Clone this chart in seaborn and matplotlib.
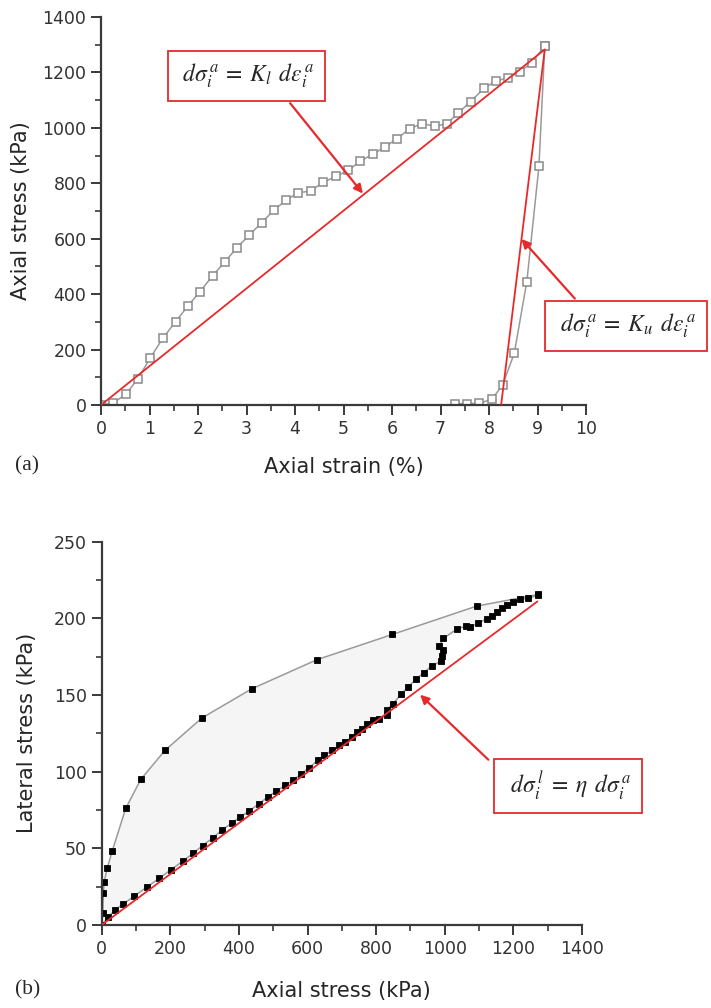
import numpy as np
import pandas as pd
import seaborn as sns
import matplotlib
import matplotlib.pyplot as plt
from matplotlib.ticker import MultipleLocator

matplotlib.use('Agg')

# panel (a): axial strain (%) vs axial stress (kPa)
load_strain = [0, 0.25, 0.52, 0.76, 1.02, 1.27, 1.54, 1.79, 2.04, 2.30, 2.55, 2.80, 3.06,
               3.31, 3.56, 3.82, 4.07, 4.32, 4.58, 4.85, 5.10, 5.35, 5.60, 5.86, 6.10,
               6.37, 6.61, 6.89, 7.13, 7.37, 7.62, 7.90, 8.14, 8.40, 8.64, 8.88, 9.15]
load_stress = [0, 7, 40, 95, 171, 240, 301, 357, 409, 466, 516, 567, 614,
               657, 702, 740, 766, 772, 804, 825, 847, 880, 905, 931, 961,
               997, 1015, 1006, 1015, 1054, 1095, 1143, 1169, 1181, 1203, 1235, 1296]
unload_strain = [9.15, 9.03, 8.78, 8.52, 8.28, 8.06, 7.80, 7.55, 7.30]
unload_stress = [1296, 862, 445, 186, 72, 21, 6, 5, 5]
fit_a_strain = [0, 9.15, 8.25]
fit_a_stress = [0, 1283, 0]

# panel (b): axial stress vs lateral stress (kPa)
upper_axial = [0, 3, 5, 7, 16, 31, 70, 114, 185, 292, 437, 627, 847, 1093, 1273]
upper_lateral = [0, 8, 21, 28, 37, 48.5, 76, 95, 114, 135, 154, 173, 189.5, 208, 215.6]
lower_axial = [0, 19, 39, 63, 94, 131, 168, 201, 236, 267, 294, 323, 351, 379, 403,
               429, 458, 486, 508, 535, 557, 580, 605, 630, 649, 671, 693, 710, 729,
               744, 758, 773, 790, 807, 831, 831, 850, 872, 894, 916, 938, 962, 988,
               993, 996, 984, 996, 1035, 1062, 1074, 1098, 1122, 1137, 1151, 1166,
               1180, 1200, 1219, 1244, 1273]
lower_lateral = [0, 5, 10, 13.7, 18.7, 24.6, 30.5, 35.9, 41.6, 46.8, 51.8, 56.6, 62,
                 66.4, 70.3, 74.2, 79, 83.8, 87.1, 91, 94.3, 98.2, 102.6, 107.4, 110.6,
                 113.9, 117.2, 119.3, 122.6, 125.9, 128.1, 131.3, 133.5, 134.1, 136.8,
                 140.5, 144.4, 150.4, 155.3, 160.4, 164.5, 168.8, 172, 175.3, 179.2,
                 182, 186.9, 193, 194.9, 194.5, 196.8, 199.7, 201.4, 204.2, 206.5,
                 208.6, 210.5, 212.4, 213, 215.4]
fit_b_axial = [0, 1270]
fit_b_lateral = [0, 211]

RED = "#e8292b"
AXIS = "#3a3a3a"

sns.set_style("ticks")
plt.rcParams['font.family'] = ['DejaVu Sans']
plt.rcParams['mathtext.fontset'] = 'stix'

fig = plt.figure(figsize=(7.11, 10.08), dpi=100)
ax1 = fig.add_axes([101 / 711, 1 - 405 / 1008, 485 / 711, 388 / 1008])
ax2 = fig.add_axes([101.7 / 711, 1 - 925 / 1008, 480.3 / 711, 383.3 / 1008])


def style_axis(ax):
	for side in ["top", "right"]:
		ax.spines[side].set_visible(False)
	for side in ["left", "bottom"]:
		ax.spines[side].set_color(AXIS)
		ax.spines[side].set_linewidth(1.6)
	ax.tick_params(which="major", direction="out", length=7, width=1.4, color=AXIS,
				   labelsize=12.5, labelcolor="#333333")
	ax.tick_params(which="minor", direction="out", length=4, width=1.2, color=AXIS)
	ax.set_facecolor("none")


def label_box(ax, x, y, text):
	ax.text(x, y, text, fontsize=17, ha="center", va="center", zorder=6,
			bbox=dict(boxstyle="square,pad=0.45", fc="white", ec=RED, lw=1.3),
			clip_on=False)


def red_arrow(ax, start, head):
	ax.annotate("", xy=head, xytext=start, annotation_clip=False, zorder=6,
				arrowprops=dict(arrowstyle="-|>", color=RED, lw=1.6, mutation_scale=13,
								shrinkA=0, shrinkB=0))


label_kw = dict(family="DejaVu Sans", fontsize=15, color="#262626")

# ---- panel (a)
loading = pd.DataFrame({"strain": load_strain, "stress": load_stress})
unloading = pd.DataFrame({"strain": unload_strain, "stress": unload_stress})
sq_open = dict(marker="s", markersize=5.3, markerfacecolor="white",
			   markeredgecolor="#8a8a8a", markeredgewidth=1.1)
sns.lineplot(data=loading, x="strain", y="stress", sort=False, estimator=None,
			 color="#9a9a9a", lw=1.1, ax=ax1, **sq_open)
sns.lineplot(data=unloading, x="strain", y="stress", sort=False, estimator=None,
			 color="#9a9a9a", lw=1.1, ax=ax1, **sq_open)
sns.lineplot(x=fit_a_strain, y=fit_a_stress, sort=False, estimator=None,
			 color=RED, lw=1.3, ax=ax1, zorder=5)

ax1.set_xlim(0, 10)
ax1.set_ylim(0, 1400)
ax1.xaxis.set_major_locator(MultipleLocator(1))
ax1.xaxis.set_minor_locator(MultipleLocator(0.5))
ax1.yaxis.set_major_locator(MultipleLocator(200))
ax1.yaxis.set_minor_locator(MultipleLocator(100))
style_axis(ax1)
ax1.set_xlabel("Axial strain (%)", labelpad=14, **label_kw)
ax1.set_ylabel("Axial stress (kPa)", labelpad=8, **label_kw)

label_box(ax1, 3.0, 1187, r"$\;d\sigma_i^{\,a}\,=\;K_l\;\, d\varepsilon_i^{\,a}\;$")
red_arrow(ax1, (3.90, 1089), (5.40, 763))
label_box(ax1, 10.82, 286, r"$\;d\sigma_i^{\,a}\,=\;K_u\;\, d\varepsilon_i^{\,a}\;$")
red_arrow(ax1, (9.77, 384), (8.67, 599))

# ---- panel (b)
upper = pd.DataFrame({"axial": upper_axial, "lateral": upper_lateral})
lower = pd.DataFrame({"axial": lower_axial, "lateral": lower_lateral})
ax2.fill(np.r_[upper_axial, lower_axial[::-1]], np.r_[upper_lateral, lower_lateral[::-1]],
		 color="#f5f5f5", lw=0, zorder=0)
sq_full = dict(marker="s", markersize=4.8, markerfacecolor="black",
			   markeredgecolor="black", markeredgewidth=0.6)
sns.lineplot(data=upper, x="axial", y="lateral", sort=False, estimator=None,
			 color="#9a9a9a", lw=1.1, ax=ax2, **sq_full)
sns.lineplot(data=lower, x="axial", y="lateral", sort=False, estimator=None,
			 color="#9a9a9a", lw=1.1, ax=ax2, **sq_full)
sns.lineplot(x=fit_b_axial, y=fit_b_lateral, sort=False, estimator=None,
			 color=RED, lw=1.3, ax=ax2, zorder=5)

ax2.set_xlim(0, 1400)
ax2.set_ylim(0, 250)
ax2.xaxis.set_major_locator(MultipleLocator(200))
ax2.xaxis.set_minor_locator(MultipleLocator(100))
ax2.yaxis.set_major_locator(MultipleLocator(50))
ax2.yaxis.set_minor_locator(MultipleLocator(25))
style_axis(ax2)
ax2.set_xlabel("Axial stress (kPa)", labelpad=17, **label_kw)
ax2.set_ylabel("Lateral stress (kPa)", labelpad=12, **label_kw)

label_box(ax2, 1360, 90.7, r"$\ d\sigma_i^{\,l}\;=\;\eta\;\, d\sigma_i^{\,a}\ \,$")
red_arrow(ax2, (1127, 107.8), (928, 150.2))

fig.text(15 / 711, 1 - 466 / 1008, "(a)", family="Liberation Serif", fontsize=15.5,
		 va="center")
fig.text(15 / 711, 1 - 990 / 1008, "(b)", family="Liberation Serif", fontsize=15.5,
		 va="center")

fig.savefig("out.png", dpi=100)
